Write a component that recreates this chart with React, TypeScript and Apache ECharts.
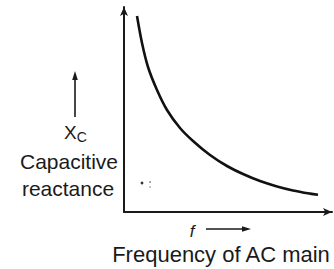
import React, { useEffect, useRef } from "react";
import * as echarts from "echarts";

// Frequency f (arbitrary units) and capacitive reactance Xc (arbitrary units)
const frequency = [0.65, 0.9, 1.2, 1.65, 2.15, 2.8, 3.45, 4.3, 5.15, 5.95, 6.8, 7.65, 8.45, 9.3, 9.7];
const reactance = [9.8, 8.45, 7.25, 6.1, 5.1, 4.2, 3.55, 2.85, 2.3, 1.9, 1.55, 1.28, 1.08, 0.92, 0.86];

const yLabelLines = ["Capacitive", "reactance"];
const xSymbol = "f";
const xTitle = "Frequency of AC main";

export default function App() {
  const ref = useRef<HTMLDivElement>(null);
  useEffect(() => {
    if (!ref.current) return;
    const chart = echarts.init(ref.current, undefined, { renderer: "svg" });
    const font = "Liberation Sans, Arial, sans-serif";
    const ink = "#1a1a1a";
    chart.setOption({
      animation: false,
      backgroundColor: "#ffffff",
      grid: { left: 124, top: 7, right: 2, bottom: 57, containLabel: false },
      xAxis: {
        type: "value",
        min: 0,
        max: 10.4,
        axisLine: {
          show: true,
          symbol: ["none", "arrow"],
          symbolSize: [6, 9],
          lineStyle: { color: ink, width: 2 },
        },
        axisTick: { show: false },
        axisLabel: { show: false },
        splitLine: { show: false },
      },
      yAxis: {
        type: "value",
        min: 0,
        max: 10.25,
        axisLine: {
          show: true,
          symbol: ["none", "arrow"],
          symbolSize: [6, 9],
          lineStyle: { color: ink, width: 2 },
        },
        axisTick: { show: false },
        axisLabel: { show: false },
        splitLine: { show: false },
      },
      series: [
        {
          type: "line",
          data: frequency.map((f, i) => [f, reactance[i]]),
          smooth: 0.3,
          showSymbol: false,
          lineStyle: { color: "#111", width: 2.6 },
        },
      ],
      graphic: [
        // up arrow beside Xc
        { type: "line", shape: { x1: 75, y1: 78, x2: 75, y2: 117 }, style: { stroke: ink, lineWidth: 1.6 } },
        { type: "polygon", shape: { points: [[75, 71], [72.2, 80], [77.8, 80]] }, style: { fill: ink } },
        {
          type: "text",
          left: 64,
          top: 123,
          style: {
            text: "{a|X}{b|C}",
            rich: {
              a: { fontFamily: font, fontSize: 19, fill: ink },
              b: { fontFamily: font, fontSize: 14, fill: ink, padding: [8, 0, 0, 0] },
            },
          },
        },
        {
          type: "text",
          x: 69,
          y: 161,
          style: {
            text: yLabelLines[0],
            fontFamily: font,
            fontSize: 21,
            fill: ink,
            align: "center",
            verticalAlign: "middle",
          },
        },
        {
          type: "text",
          x: 68,
          y: 188,
          style: {
            text: yLabelLines[1],
            fontFamily: font,
            fontSize: 21,
            fill: ink,
            align: "center",
            verticalAlign: "middle",
          },
        },
        // small specks
        { type: "circle", shape: { cx: 142, cy: 183, r: 1.4 }, style: { fill: "#333" } },
        { type: "circle", shape: { cx: 150, cy: 182, r: 0.9 }, style: { fill: "#888" } },
        { type: "circle", shape: { cx: 150, cy: 187, r: 0.9 }, style: { fill: "#aaa" } },
        // f ->
        {
          type: "text",
          x: 192,
          y: 231,
          style: {
            text: xSymbol,
            fontFamily: font,
            fontStyle: "italic",
            fontSize: 17,
            fill: ink,
            align: "center",
            verticalAlign: "middle",
          },
        },
        { type: "line", shape: { x1: 206, y1: 229, x2: 244, y2: 229 }, style: { stroke: ink, lineWidth: 1.6 } },
        { type: "polygon", shape: { points: [[251, 229], [242, 226.2], [242, 231.8]] }, style: { fill: ink } },
        {
          type: "text",
          x: 221,
          y: 254,
          style: {
            text: xTitle,
            fontFamily: font,
            fontSize: 22,
            fill: ink,
            align: "center",
            verticalAlign: "middle",
          },
        },
      ],
    });
    return () => chart.dispose();
  }, []);
  return (
    <div
      ref={ref}
      style={{ position: "fixed", left: 0, top: 0, width: 334, height: 269, background: "#fff" }}
    />
  );
}
